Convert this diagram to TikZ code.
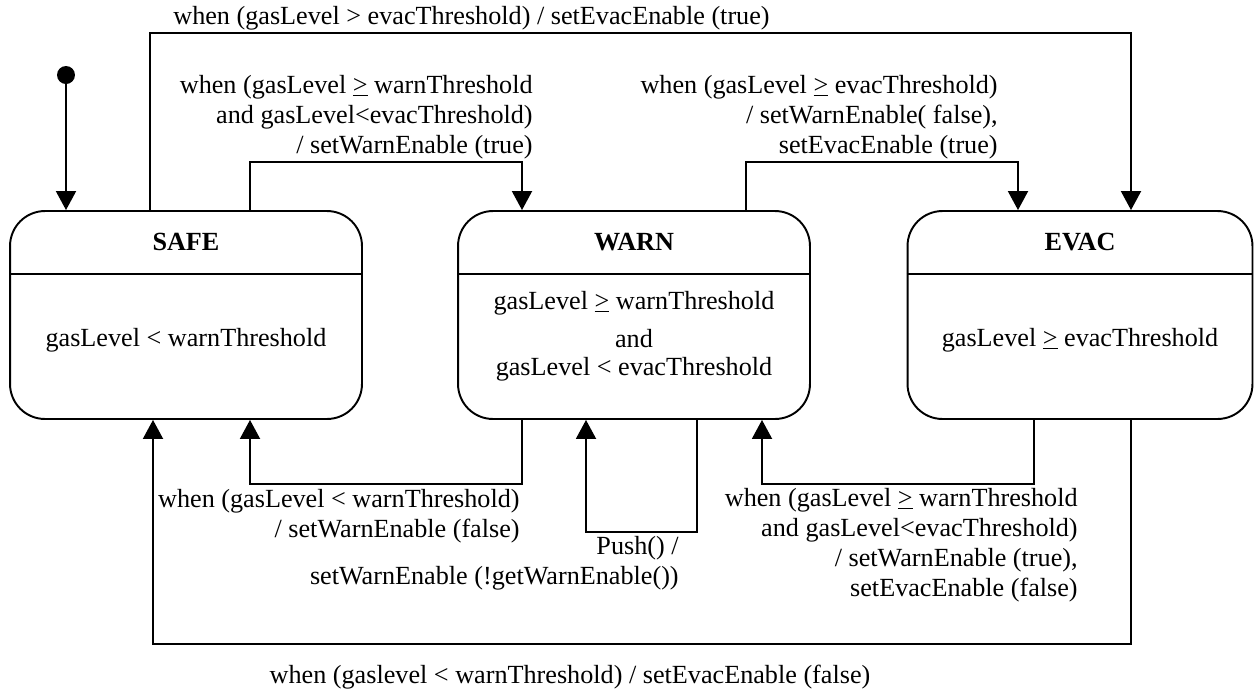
\documentclass[tikz,border=0pt]{standalone}
\usepackage{fontspec}
\setmainfont{LiberationSerif-Regular.ttf}[BoldFont=LiberationSerif-Bold.ttf]
\usetikzlibrary{arrows.meta,positioning,calc}

\begin{document}
\begin{tikzpicture}[x=0.02cm,y=-0.02cm,
  every node/.style={font=\fontsize{14.9}{17.1}\selectfont},
  state/.style={draw,line width=1.1pt,rounded corners=0.7cm,minimum width=7.04cm,minimum height=4.16cm,inner sep=0pt},
  title/.style={font=\fontsize{14.9}{17.1}\selectfont\bfseries},
  trans/.style={line width=1.1pt,-{Triangle[width=0.4cm,length=0.38cm]}},
  lbl/.style={inner sep=0pt,align=right}]
  \useasboundingbox (0,0) rectangle (1255,691);

  % Zustaende
  \node[state] (safe) at (186,315) {};
  \node[state] (warn) at (634,315) {};
  \node[state,minimum width=6.9cm] (evac) at (1080,315) {};
  \draw[line width=1.1pt] ($(safe.north west)+(0,64)$) -- ($(safe.north east)+(0,64)$);
  \draw[line width=1.1pt] ($(warn.north west)+(0,64)$) -- ($(warn.north east)+(0,64)$);
  \draw[line width=1.1pt] ($(evac.north west)+(0,64)$) -- ($(evac.north east)+(0,64)$);
  \node[title] (safetitle) at ($(safe.north)+(0,32)$) {SAFE};
  \node[title] (warntitle) at ($(warn.north)+(0,32)$) {WARN};
  \node[title] (evactitle) at ($(evac.north)+(0,32)$) {EVAC};
  \node (safebody) at ($(safe.center)+(0,25)$) {gasLevel < warnThreshold};
  \node[align=center] (warnbody) at ($(warn.center)+(0,21)$) {gasLevel \underline{>} warnThreshold\\[4.5pt] and\\[-1pt] gasLevel < evacThreshold};
  \node (evacbody) at ($(evac.center)+(0,25)$) {gasLevel \underline{>} evacThreshold};

  % Startpunkt
  \node[circle,fill,inner sep=0pt,minimum size=0.36cm] (init) at (66,75) {};
  \draw[trans] (init) -- (init |- safe.north);

  % Uebergaenge oben
  \draw[trans] ($(safe.north)+(-36,0)$) -- ++(0,-177) -| ($(evac.north)+(51,0)$);
  \node[lbl,anchor=west] (lblsafeevac) at (173,18) {when (gasLevel > evacThreshold) / setEvacEnable (true)};
  \draw[trans] ($(safe.north)+(64,0)$) -- ++(0,-48) -| ($(warn.north)+(-112,0)$);
  \node[lbl,anchor=east] (lblsafewarn) at (533,117) {when (gasLevel \underline{>} warnThreshold\\ and gasLevel<evacThreshold)\\ / setWarnEnable (true)};
  \draw[trans] ($(warn.north)+(112,0)$) -- ++(0,-48) -| ($(evac.north)+(-62,0)$);
  \node[lbl,anchor=east] (lblwarnevac) at (998,117) {when (gasLevel \underline{>} evacThreshold)\\ / setWarnEnable( false),\\ setEvacEnable (true)};

  % Uebergaenge unten
  \draw[trans] ($(warn.south)+(-112,0)$) -- ++(0,64) -| ($(safe.south)+(64,0)$);
  \node[lbl,anchor=east] (lblwarnsafe) at (520,516) {when (gasLevel < warnThreshold)\\ / setWarnEnable (false)};
  \draw[trans] ($(warn.south)+(63,0)$) -- ++(0,112) -| ($(warn.south)+(-48,0)$);
  \node[lbl,anchor=east] (lblpush) at (679,563) {Push() /\\ setWarnEnable (!getWarnEnable())};
  \draw[trans] ($(evac.south)+(-46,0)$) -- ++(0,64) -| ($(warn.south)+(128,0)$);
  \node[lbl,anchor=east] (lblevacwarn) at (1078,545) {when (gasLevel \underline{>} warnThreshold\\ and gasLevel<evacThreshold)\\ / setWarnEnable (true),\\ setEvacEnable (false)};
  \draw[trans] ($(evac.south)+(51,0)$) -- ++(0,224) -| ($(safe.south)+(-33,0)$);
  \node[lbl] (lblevacsafe) at (570,677) {when (gaslevel < warnThreshold) / setEvacEnable (false)};
\end{tikzpicture}
\end{document}
